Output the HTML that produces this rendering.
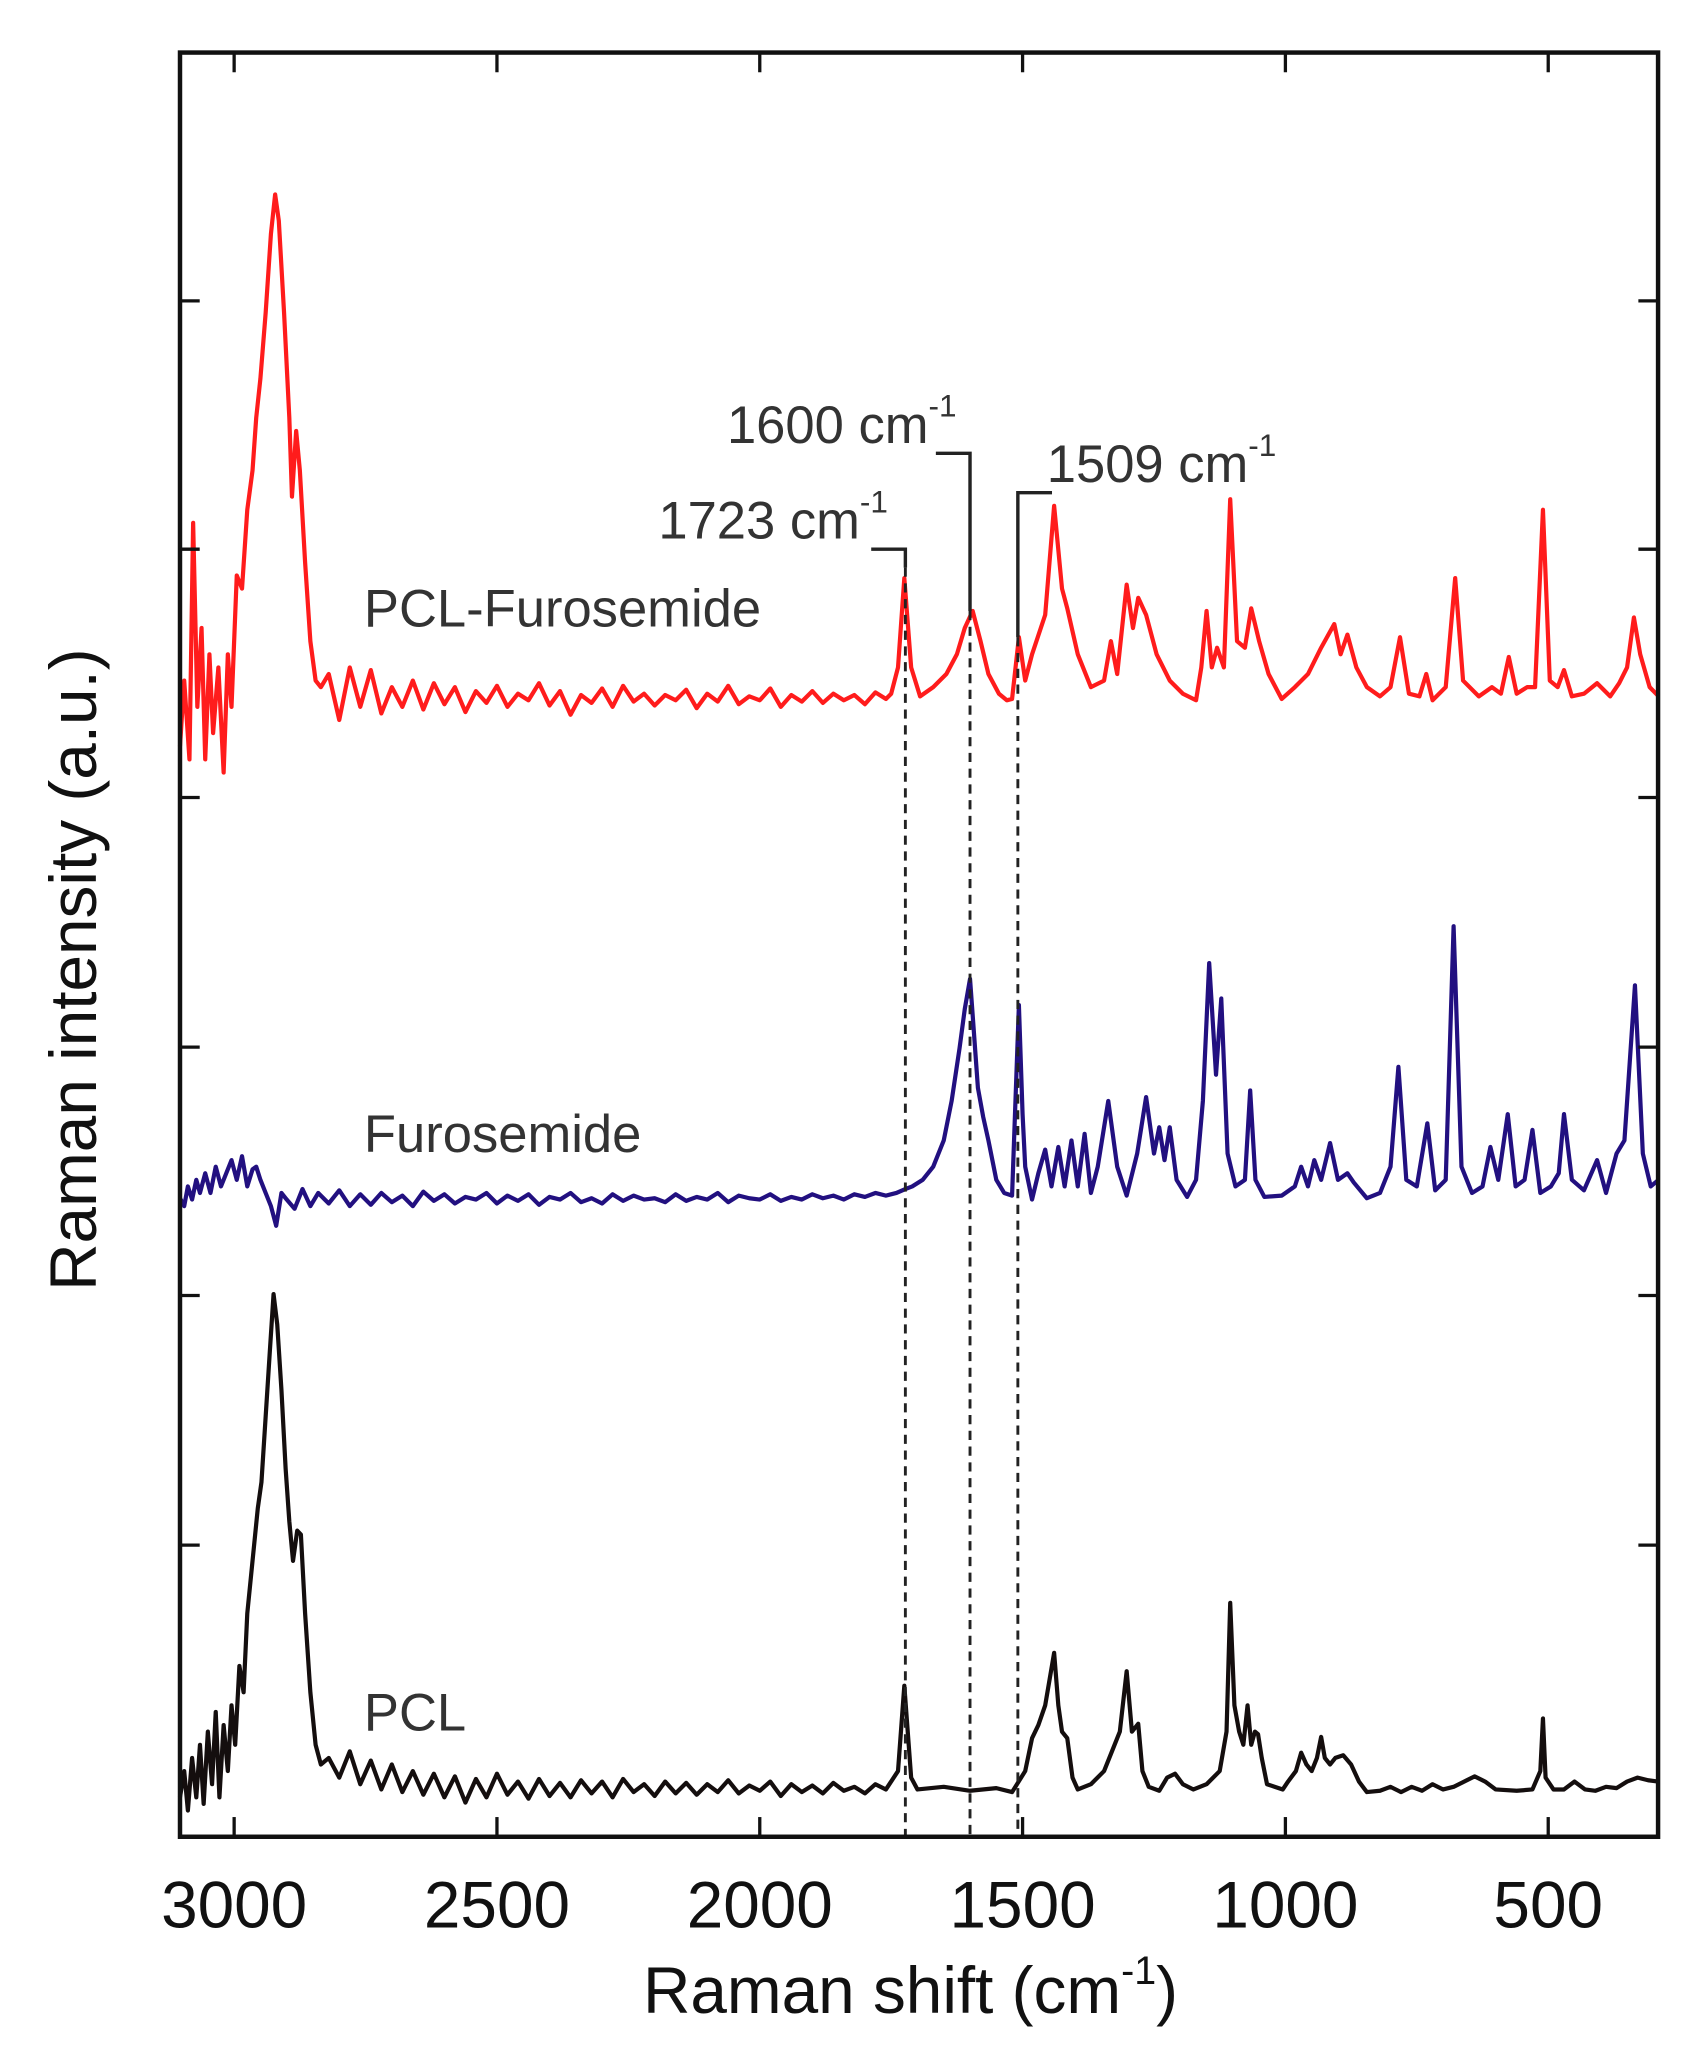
<!DOCTYPE html>
<html><head><meta charset="utf-8">
<style>
html,body{margin:0;padding:0;background:#fff;}
svg{display:block;}
text{font-family:"Liberation Sans",Arial,sans-serif;}
</style></head>
<body>
<svg id="chart" width="1708" height="2068" viewBox="0 0 1300 1574" xmlns="http://www.w3.org/2000/svg">
<rect x="0" y="0" width="1300" height="1574" fill="#fff"/>
<g id="series"></g>
<g id="annot"></g>
<g id="axes"></g>
<text x="693" y="1532" font-size="50" text-anchor="middle" fill="#111">Raman shift (cm<tspan font-size="30" dy="-22">-1</tspan><tspan dy="22">)</tspan></text>
<text transform="translate(73,738) rotate(-90)" font-size="50" text-anchor="middle" fill="#111">Raman intensity (a.u.)</text>
<text x="277" y="477" font-size="40" fill="#333">PCL-Furosemide</text>
<text x="277" y="877" font-size="40" fill="#333">Furosemide</text>
<text x="277" y="1317" font-size="40" fill="#333">PCL</text>
</svg>
<script>
// ---------- data ----------
const xDomain = [3103, 291];
const yDomain = [0, 135.8];
const xTickValues = [3000, 2500, 2000, 1500, 1000, 500];
const xTickLabels = ["3000", "2500", "2000", "1500", "1000", "500"];
const yTickValues = [22.2, 41.2, 60.1, 79.1, 98.0, 116.9];
const markerShifts = [1723, 1600, 1509];
const markerLabels = ["1723", "1600", "1509"];
const markerTopValues = [96.6, 93.3, 91.3];
const markerBracketValues = [98.0, 105.3, 102.3];

const noiseShifts = [2820,2800,2780,2760,2740,2720,2700,2680,2660,2640,2620,2600,2580,2560,2540,2520,2500,2480,2460,2440,2420,2400,2380,2360,2340,2320,2300,2280,2260,2240,2220,2200,2180,2160,2140,2120,2100,2080,2060,2040,2020,2000,1980,1960,1940,1920,1900,1880,1860,1840,1820,1800,1780,1760];

// PCL-Furosemide (red)
const redHeadShifts = [3103,3095,3085,3078,3070,3062,3055,3047,3040,3030,3020,3012,3005,2995,2985,2975,2965,2958,2950,2940,2930,2922,2915,2905,2895,2890,2882,2875,2865,2855,2845,2835];
const redHeadValues = [83,88,82,100,86,92,82,90,84,89,81,90,86,96,95,101,104,108,111,116,122,125,123,116,108,102,107,104,97,91,88,87.5];
const redNoiseValues = [88.5,85,89,86,88.8,85.5,87.5,86,88,85.8,87.8,86.2,87.5,85.6,87.2,86.3,87.6,86,87,86.5,87.8,86.1,87.2,85.4,86.9,86.3,87.4,86,87.6,86.4,87,86.1,86.9,86.5,87.3,85.9,87,86.4,87.6,86.2,86.8,86.5,87.4,86,86.9,86.4,87.2,86.3,87,86.5,86.9,86.2,87.1,86.6];
const redTailShifts = [1750,1737,1725,1712,1695,1670,1645,1625,1610,1595,1580,1565,1545,1530,1520,1507,1495,1482,1457,1440,1425,1415,1395,1370,1345,1332,1320,1302,1290,1280,1265,1245,1220,1195,1170,1160,1150,1140,1130,1117,1105,1092,1077,1065,1050,1032,1007,982,957,932,907,895,882,865,845,820,800,782,765,745,732,720,695,677,662,632,607,590,575,560,540,525,510,497,482,470,455,432,407,382,365,350,337,325,307,290];
const redTailValues = [87,89,95.8,89,86.8,87.5,88.5,90,92,93.3,91,88.5,87,86.5,86.6,91.3,88,90,93,101.3,95,93.5,90,87.5,88,91,88.5,95.3,92,94.3,93,90,88,87,86.5,89,93.3,89,90.5,89,101.8,91,90.5,93.5,91,88.5,86.6,87.5,88.5,90.5,92.3,90,91.5,89,87.5,86.8,87.5,91.3,87,86.8,88.5,86.5,87.5,95.8,88,86.8,87.5,87,89.8,87,87.5,87.5,101,88,87.5,88.8,86.8,87,87.8,86.8,87.8,89,92.8,90,87.5,86.8];

// Furosemide (blue)
const blueHeadShifts = [3103,3095,3088,3080,3072,3065,3055,3045,3035,3025,3015,3005,2995,2985,2975,2965,2958,2950,2940,2930,2920,2910,2900,2885,2870,2855,2840];
const blueHeadValues = [48.6,48,49.5,48.5,50,49,50.5,49,51,49.5,50.5,51.5,50,51.8,49.5,50.8,51,50,49,48,46.5,49,48.5,47.8,49.3,48,49];
const blueNoiseValues = [48.2,49.2,48,48.9,48.1,49,48.3,48.8,48,49.1,48.4,48.9,48.2,48.7,48.5,49,48.2,48.8,48.4,48.9,48.1,48.7,48.5,49,48.3,48.6,48.2,48.9,48.4,48.8,48.5,48.6,48.3,48.9,48.4,48.7,48.5,49,48.3,48.8,48.6,48.5,48.9,48.4,48.7,48.5,48.9,48.6,48.8,48.5,48.9,48.7,49,48.8];
const blueTailShifts = [1740,1723,1710,1690,1670,1650,1635,1620,1610,1600,1594,1585,1575,1565,1550,1535,1520,1507,1500,1495,1482,1470,1457,1445,1432,1420,1407,1395,1382,1370,1357,1337,1320,1302,1282,1265,1250,1240,1230,1220,1207,1187,1170,1157,1145,1132,1122,1110,1095,1077,1067,1057,1040,1007,982,970,957,945,932,915,900,882,870,845,820,800,785,770,750,730,715,695,680,665,645,625,610,595,577,562,545,530,515,495,480,470,455,432,407,390,370,355,335,320,305,290];
const blueTailValues = [49,49.3,49.5,50,51,53,56,60,63,65.3,62,57,54.8,53,50,49,48.8,63.3,55,51,48.5,50.5,52.3,49.5,52.5,49.5,53,49.5,53.5,49,51,56,51,48.8,52,56.3,52,54,51.5,54,50,48.7,50,56,66.5,58,63.8,52,49.5,50,56.8,50,48.7,48.8,49.5,51,49.5,51.5,50,52.8,50,50.5,49.8,48.6,49,51,58.6,50,49.5,54.3,49.2,50,69.3,51,49,49.5,52.5,50,55,49.5,50,53.8,49,49.5,50.5,55,50,49.2,51.5,49,52,53,64.8,52,49.5,50];

// PCL (black)
const blackHeadShifts = [3103,3095,3088,3080,3072,3065,3058,3050,3042,3035,3028,3020,3012,3005,2998,2990,2982,2975,2965,2955,2948,2940,2932,2925,2918,2910,2902,2895,2888,2880,2873,2865,2855,2845,2835];
const blackHeadValues = [3,5,2,6,3,7,2.5,8,4,9.5,3,8.5,5,10,7,13,11,17,21,25,27,32,37,41.3,39,34,28,24,21,23.3,23,17,11,7,5.5];
const blackNoiseValues = [6,4.5,6.5,4,5.8,3.6,5.5,3.4,5,3.2,4.8,3,4.6,2.6,4.4,3,4.8,3.2,4.2,2.9,4.4,3.1,4.1,3,4.3,3.3,4.2,3,4.4,3.4,4,3.1,4.2,3.3,4.1,3.2,4,3.4,4.3,3.3,3.9,3.5,4.2,3.1,4,3.4,3.9,3.3,4.1,3.5,3.8,3.3,4,3.6];
const blackTailShifts = [1737,1725,1712,1700,1650,1600,1550,1520,1495,1482,1470,1457,1440,1432,1425,1415,1405,1395,1370,1345,1325,1315,1302,1292,1280,1272,1260,1240,1225,1210,1195,1175,1150,1125,1112,1105,1097,1088,1080,1072,1065,1058,1052,1045,1035,1020,1005,995,980,970,960,950,940,932,925,915,905,890,875,860,845,820,800,780,760,740,720,700,680,660,640,620,600,560,530,515,510,505,490,470,450,430,410,390,370,350,330,310,291];
const blackTailValues = [5,11.5,4.5,3.6,3.8,3.5,3.7,3.4,5,7.5,8.5,10,14,10,8,7.5,4.5,3.6,4,5,7,8,12.6,8,8.6,5,3.8,3.5,4.5,4.8,4,3.6,4,5,8,17.8,10,8,7,10,7,8,7.8,6,4,3.8,3.6,4.2,5,6.4,5.5,5,6,7.6,6,5.5,6,6.2,5.5,4.2,3.4,3.5,3.8,3.4,3.8,3.5,4,3.6,3.8,4.2,4.6,4.2,3.6,3.5,3.6,5,9,4.5,3.6,3.6,4.2,3.6,3.5,3.8,3.7,4.2,4.5,4.3,4.2];

// ---------- scales ----------
const plot = {left:137, right:1262, top:40, bottom:1398};
function xScale(w){ return plot.left + (w - xDomain[0]) / (xDomain[1] - xDomain[0]) * (plot.right - plot.left); }
function yScale(v){ return plot.bottom - (v - yDomain[0]) / (yDomain[1] - yDomain[0]) * (plot.bottom - plot.top); }
const NS = "http://www.w3.org/2000/svg";
function mk(tag, attrs, parent){ const e = document.createElementNS(NS, tag); for (const k in attrs) e.setAttribute(k, attrs[k]); parent.appendChild(e); return e; }

function buildPath(shifts, values){
  let d = "";
  const n = Math.min(shifts.length, values.length);
  for (let i = 0; i < n; i++) d += (i ? "L" : "M") + xScale(shifts[i]).toFixed(2) + "," + yScale(values[i]).toFixed(2);
  return d;
}
const seriesG = document.getElementById("series");
function drawSeries(name, color, parts){
  let d = "";
  parts.forEach(p => { const s = buildPath(p[0], p[1]); d += d ? "L" + s.slice(1) : s; });
  const el = mk("path", {d: d, fill: "none", stroke: color, "stroke-width": 3.2, "stroke-linejoin": "round"}, seriesG);
  
  
}
drawSeries("pcl-furosemide-spectrum", "#ff1c1c", [[redHeadShifts, redHeadValues],[noiseShifts, redNoiseValues],[redTailShifts, redTailValues]]);
drawSeries("furosemide-spectrum", "#221080", [[blueHeadShifts, blueHeadValues],[noiseShifts, blueNoiseValues],[blueTailShifts, blueTailValues]]);
drawSeries("pcl-spectrum", "#140e0e", [[blackHeadShifts, blackHeadValues],[noiseShifts, blackNoiseValues],[blackTailShifts, blackTailValues]]);

// ---------- markers ----------
const annot = document.getElementById("annot");
const labelOffsets = [[-188, -8], [-185, -8], [22, -8]];
const bracketDirs = [-1, -1, 1];
for (let i = 0; i < markerShifts.length; i++){
  const x = xScale(markerShifts[i]);
  const yb = yScale(markerBracketValues[i]);
  const yt = yScale(markerTopValues[i]);
  const dl = mk("line", {x1:x, y1:yt, x2:x, y2:plot.bottom, stroke:"#222", "stroke-width":2.2, "stroke-dasharray":"7,5"}, annot);
  
  
  const br = mk("path", {d:"M" + (x + bracketDirs[i]*26) + "," + yb + "L" + x + "," + yb + "L" + x + "," + yt, fill:"none", stroke:"#222", "stroke-width":2.6}, annot);
  
  
  const t = mk("text", {x: x + labelOffsets[i][0], y: yb + labelOffsets[i][1], "font-size": 40, fill:"#333"}, annot);
  
  
  t.textContent = markerLabels[i] + " cm";
  const sup = mk("tspan", {"font-size": 24, dy: -20}, t);
  sup.textContent = "-1";
}

// ---------- axes ----------
const axes = document.getElementById("axes");
const frame = mk("rect", {x:plot.left, y:plot.top, width:plot.right-plot.left, height:plot.bottom-plot.top, fill:"none", stroke:"#111", "stroke-width":3.4}, axes);


xTickValues.forEach((v, i) => {
  const x = xScale(v);
  const tb = mk("line", {x1:x, y1:plot.bottom, x2:x, y2:plot.bottom-15, stroke:"#111", "stroke-width":2.5}, axes);
  
  
  const tt = mk("line", {x1:x, y1:plot.top, x2:x, y2:plot.top+15, stroke:"#111", "stroke-width":2.5}, axes);
  
  
  const lb = mk("text", {x:x, y:1467, "font-size":50, "text-anchor":"middle", fill:"#111"}, axes);
  
  
  lb.textContent = xTickLabels[i];
});
yTickValues.forEach((v, i) => {
  const y = yScale(v);
  const tl = mk("line", {x1:plot.left, y1:y, x2:plot.left+15, y2:y, stroke:"#111", "stroke-width":2.5}, axes);
  
  
  const tr = mk("line", {x1:plot.right, y1:y, x2:plot.right-15, y2:y, stroke:"#111", "stroke-width":2.5}, axes);
  
  
});
</script>
</body></html>
